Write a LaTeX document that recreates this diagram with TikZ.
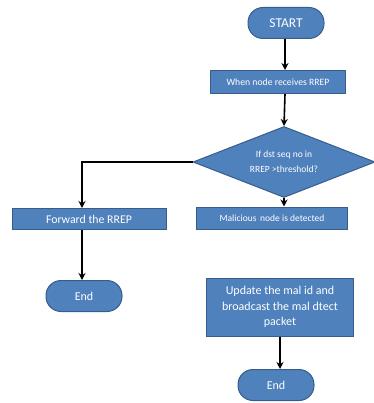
\documentclass[tikz,border=0pt]{standalone}
\usepackage{fontspec}
\setmainfont{Carlito}
\usetikzlibrary{shapes.geometric}
\usetikzlibrary{arrows.meta}
\definecolor{boxblue}{HTML}{4F81BD}
\definecolor{boxedge}{HTML}{385D8A}

\begin{document}
\begin{tikzpicture}[x=1pt, y=-1pt,
terminal/.style={rectangle, rounded corners=15pt, draw=boxedge, fill=boxblue, text=white, line width=1pt, minimum width=76pt, minimum height=31pt, font=\fontsize{12}{14}\selectfont},
process/.style={rectangle, draw=boxedge, fill=boxblue, text=white, line width=1pt, align=center, font=\fontsize{9.5}{11}\selectfont},
decision/.style={diamond, aspect=2.56, draw=boxedge, fill=boxblue, text=white, line width=1pt, align=center, inner sep=0pt, minimum width=182pt, minimum height=71pt, font=\fontsize{9.5}{15}\selectfont},
arrow/.style={-{Stealth[length=7pt,width=7pt]}, line width=1.6pt}
]
\useasboundingbox (0,0) rectangle (373,403);

% nodes
\node[terminal, font=\fontsize{13.5}{15}\selectfont] (start) at (286,23) {START};
\node[process, minimum width=135pt, minimum height=23pt, font=\fontsize{9.7}{11}\selectfont] (recv) at (278,82) {When node receives RREP};
\node[decision] (check) at (284,162) {If dst seq no in\\RREP >threshold?};
\node[process, minimum width=154pt, minimum height=21pt, font=\fontsize{11.8}{13}\selectfont] (fwd) at (89,219) {Forward the RREP};
\node[process, minimum width=151pt, minimum height=22pt] (mal) at (272,218) {Malicious\, node is detected};
\node[terminal] (end1) at (84,296) {End};
\node[process, minimum width=147pt, minimum height=58pt, font=\fontsize{12}{15.5}\selectfont] (upd) at (280,307) {Update the mal id and\\broadcast the mal dtect\\packet};
\node[terminal] (end2) at (276,385) {End};

% bend point left of the diamond
\coordinate (turn) at (82,162);

% connectors
\draw[arrow] (start.south -| 285,0) -- (recv.north -| 285,0);
\draw[arrow] (recv.south -| 285,0) -- (check.north);
\draw[arrow] (check.west) -- (turn) -- (fwd.north -| turn);
\draw[arrow] (check.south) -- (mal.north -| check.south);
\draw[arrow] (fwd.south -| turn) -- (end1.north -| turn);
\draw[arrow] (upd.south) -- (end2.north -| upd.south);

\end{tikzpicture}
\end{document}
